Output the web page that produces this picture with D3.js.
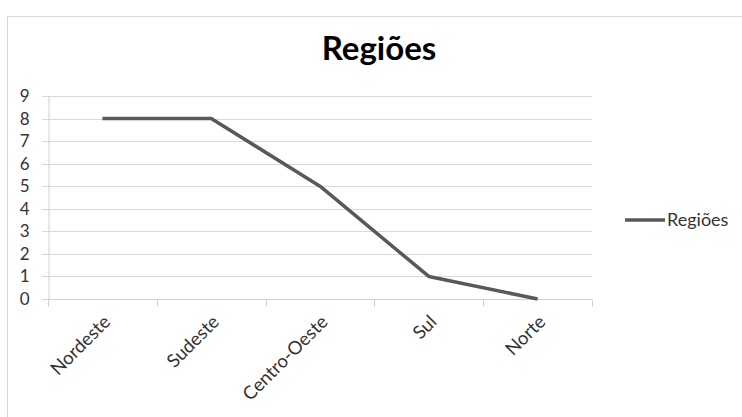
<!DOCTYPE html>
<html>
<head>
<meta charset="utf-8">
<script src="https://cdn.jsdelivr.net/npm/d3@7"></script>
<style>
  html, body { margin: 0; padding: 0; background: #fff; }
  svg { display: block; }
  text { font-family: Lato, "Open Sans", sans-serif; }
</style>
</head>
<body>
<svg id="chart" width="742" height="417"></svg>
<script>
// Number of occurrences per region
const regions = ["Nordeste", "Sudeste", "Centro-Oeste", "Sul", "Norte"];
const counts = [8, 8, 5, 1, 0];
const yTicks = [0, 1, 2, 3, 4, 5, 6, 7, 8, 9];
const seriesName = "Regiões";
const titleText = "Regiões";

const svg = d3.select("#chart");
const W = 742, H = 417;
const labelColor = "#333333";

// Outer chart frame
svg.append("rect")
  .attr("x", 7.5).attr("y", 16.5)
  .attr("width", W + 10).attr("height", H + 10)
  .attr("fill", "#fff").attr("stroke", "#d9d9d9").attr("stroke-width", 1);

const plot = { left: 48, right: 592, top: 96, bottom: 299 };

const x = d3.scaleBand().domain(regions).range([plot.left, plot.right]);
const y = d3.scaleLinear().domain([0, 9]).range([plot.bottom, plot.top]);

// Horizontal gridlines
svg.append("g")
  .selectAll("line")
  .data(yTicks)
  .join("line")
  .attr("x1", plot.left - 6).attr("x2", plot.right)
  .attr("y1", d => Math.round(y(d)) + 0.5).attr("y2", d => Math.round(y(d)) + 0.5)
  .attr("stroke", "#d9d9d9").attr("stroke-width", 1);

// Y axis
const yAxis = svg.append("g")
  .attr("transform", `translate(${plot.left + 0.5},0)`)
  .call(d3.axisLeft(y).tickValues(yTicks).tickSize(0).tickPadding(19).tickFormat(d3.format("d")));
yAxis.select(".domain").attr("stroke", "#d0d0d0");
yAxis.selectAll("text")
  .attr("font-size", 17).attr("fill", labelColor)
  .attr("font-family", "Lato, 'Open Sans', sans-serif");

// X axis with category boundary ticks
const xAxisG = svg.append("g")
  .attr("transform", `translate(0,${Math.round(plot.bottom) + 0.5})`);
xAxisG.append("line")
  .attr("x1", plot.left).attr("x2", plot.right)
  .attr("stroke", "#d0d0d0");
const bounds = regions.map(r => x(r)).concat([plot.right]);
xAxisG.selectAll("line.tick")
  .data(bounds)
  .join("line")
  .attr("class", "tick")
  .attr("x1", d => Math.round(d) + 0.5).attr("x2", d => Math.round(d) + 0.5)
  .attr("y1", 0).attr("y2", 7)
  .attr("stroke", "#d0d0d0");

// Rotated category labels
svg.append("g")
  .selectAll("text")
  .data(regions)
  .join("text")
  .attr("transform", d => `translate(${x(d) + x.bandwidth() / 2 + 9},${plot.bottom + 24}) rotate(-45)`)
  .attr("text-anchor", "end")
  .attr("font-size", 18.5).attr("fill", labelColor)
  .text(d => d);

// Series line
const line = d3.line()
  .x((d, i) => x(regions[i]) + x.bandwidth() / 2)
  .y(d => y(d));
svg.append("path")
  .datum(counts)
  .attr("d", line)
  .attr("fill", "none")
  .attr("stroke", "#595959")
  .attr("stroke-width", 3.5)
  .attr("stroke-linejoin", "round");

// Title
svg.append("text")
  .attr("x", 379).attr("y", 60)
  .attr("text-anchor", "middle")
  .attr("font-size", 33).attr("font-weight", "bold").attr("fill", "#000")
  .text(titleText);

// Legend
const lg = svg.append("g").attr("transform", "translate(625,220)");
lg.append("line")
  .attr("x1", 0).attr("x2", 40).attr("y1", 0).attr("y2", 0)
  .attr("stroke", "#595959").attr("stroke-width", 3.5);
lg.append("text")
  .attr("x", 42).attr("y", 6)
  .attr("font-size", 18).attr("fill", labelColor)
  .text(seriesName);
</script>
</body>
</html>
